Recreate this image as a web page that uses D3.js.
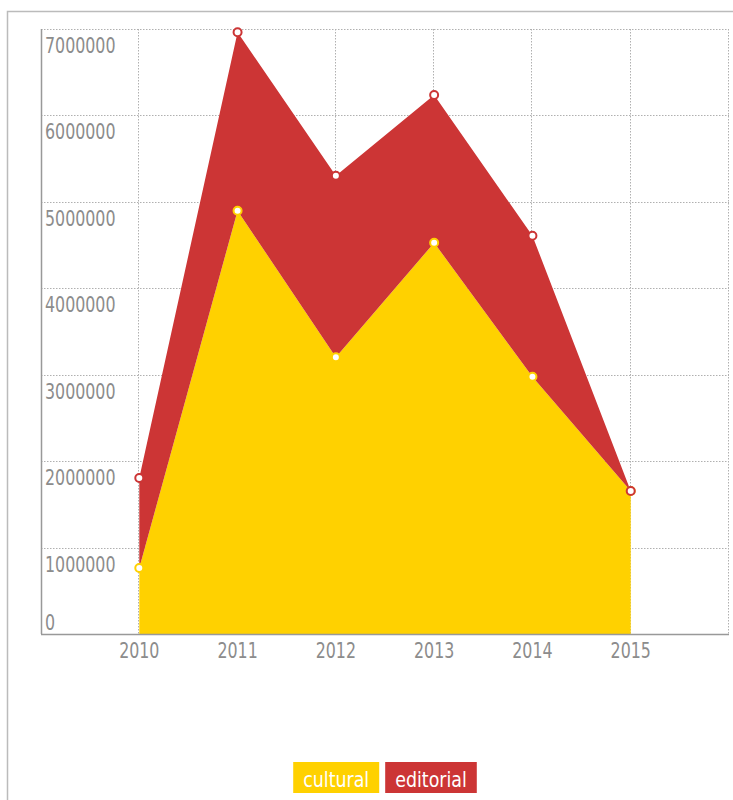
<!DOCTYPE html>
<html>
<head>
<meta charset="utf-8">
<script src="https://cdn.jsdelivr.net/npm/d3@7"></script>
<style>
    body { margin: 0; background: #fff; }
    svg text { font-family: "Liberation Sans Narrow", "DejaVu Sans Condensed", "Roboto", sans-serif; }
</style>
</head>
<body>
<div id="chart"></div>
<script>
var years = [2010, 2011, 2012, 2013, 2014, 2015];
var cultural = [764000, 4898000, 3201000, 4527000, 2977000, 1655000];
var editorial = [1041000, 2064000, 2102000, 1709000, 1631000, 0];
var seriesNames = ["cultural", "editorial"];
var seriesColors = ["#ffd100", "#cc3535"];
var yTicks = [0, 1000000, 2000000, 3000000, 4000000, 5000000, 6000000, 7000000];

var W = 733, H = 800;
var margin = { top: 29, right: 4, bottom: 166, left: 41 },
    width = W - margin.left - margin.right,
    height = H - margin.top - margin.bottom;
var narrow = 0.8; // horizontal squeeze to mimic the narrow face
var legendNarrow = 0.88;

var rows = years.map(function (y, i) { return { year: y, cultural: cultural[i], editorial: editorial[i] }; });
var stacked = d3.stack().keys(seriesNames)(rows);

var x = d3.scaleLinear().domain([years[0] - 1, years[years.length - 1] + 1]).range([0, width]);
var y = d3.scaleLinear().domain([0, 7000000]).range([height, 0]);
var color = d3.scaleOrdinal().domain(seriesNames).range(seriesColors);

var svg = d3.select("#chart").append("svg")
    .attr("width", W)
    .attr("height", H);

// outer frame
svg.append("path")
    .attr("d", "M7.5," + (H + 5) + "V11.5H" + (W + 5))
    .style("fill", "none")
    .style("stroke", "#bbb")
    .style("stroke-width", 1.5);

var g = svg.append("g")
    .attr("transform", "translate(" + margin.left + "," + margin.top + ")");

// grid
var grid = g.append("g").attr("class", "grid");
grid.selectAll(".hgrid")
    .data(yTicks.filter(function (d) { return d > 0; }))
    .enter().append("line")
    .attr("x1", 0).attr("x2", width)
    .attr("y1", function (d) { return Math.round(y(d)) + 0.5; })
    .attr("y2", function (d) { return Math.round(y(d)) + 0.5; })
    .style("stroke", "#b0b0b0")
    .style("stroke-dasharray", "1.5,1.5");

grid.selectAll(".vgrid")
    .data(years.concat([years[years.length - 1] + 1]))
    .enter().append("line")
    .attr("y1", 0).attr("y2", height)
    .attr("x1", function (d) { return Math.round(x(d)) - 0.5; })
    .attr("x2", function (d) { return Math.round(x(d)) - 0.5; })
    .style("stroke", "#b0b0b0")
    .style("stroke-dasharray", "1.5,1.5");

// areas
var area = d3.area()
    .x(function (d) { return x(d.data.year); })
    .y0(function (d) { return y(d[0]); })
    .y1(function (d) { return y(d[1]); });

g.selectAll(".area")
    .data(stacked)
    .enter().append("path")
    .attr("class", "area")
    .attr("d", area)
    .style("fill", function (d) { return color(d.key); });

// axes lines
g.append("line")
    .attr("x1", 0.5).attr("x2", 0.5).attr("y1", 0).attr("y2", height)
    .style("stroke", "#999").style("stroke-width", 1.5);
g.append("line")
    .attr("x1", 0).attr("x2", width).attr("y1", height + 0.5).attr("y2", height + 0.5)
    .style("stroke", "#999").style("stroke-width", 1.5);

// y labels (inside the plot, under their grid line)
g.selectAll(".ylabel")
    .data(yTicks)
    .enter().append("g")
    .attr("class", "ylabel")
    .attr("transform", function (d) { return "translate(4," + Math.min(y(d) + 24, height - 4) + ") scale(" + narrow + ",1)"; })
    .append("text")
    .style("font-size", "22px")
    .style("fill", "#8c8c8c")
    .text(function (d) { return d; });

// x labels
g.selectAll(".xlabel")
    .data(years)
    .enter().append("g")
    .attr("class", "xlabel")
    .attr("transform", function (d) { return "translate(" + x(d) + "," + (height + 24) + ") scale(" + narrow + ",1)"; })
    .append("text")
    .attr("text-anchor", "middle")
    .style("font-size", "22px")
    .style("fill", "#8c8c8c")
    .text(function (d) { return d; });

// points
var pts = g.selectAll(".pts")
    .data(stacked)
    .enter().append("g")
    .attr("class", "pts");

pts.selectAll("circle")
    .data(function (d) { return d.map(function (p) { return { key: d.key, p: p }; }); })
    .enter().append("circle")
    .attr("cx", function (d) { return x(d.p.data.year); })
    .attr("cy", function (d) { return y(d.p[1]); })
    .attr("r", 4)
    .style("fill", "#fff")
    .style("stroke", function (d) { return color(d.key); })
    .style("stroke-width", 2);

// legend
var legend = svg.append("g").attr("class", "legend");
var items = legend.selectAll(".item")
    .data(seriesNames)
    .enter().append("g")
    .attr("class", "item");

items.append("rect")
    .style("fill", function (d) { return color(d); });
items.append("g")
    .attr("transform", "translate(10,25) scale(" + legendNarrow + ",1)")
    .append("text")
    .style("font-size", "22px")
    .style("fill", "#fff")
    .text(function (d) { return d; });

var offset = 0, gap = 6, boxes = [];
items.each(function (d) {
    var tw = this.querySelector("text").getComputedTextLength() * legendNarrow;
    boxes.push({ x: offset, w: tw + 20 });
    offset += tw + 20 + gap;
});
var totalW = offset - gap;
var startX = margin.left + width / 2 - totalW / 2;
items.attr("transform", function (d, i) { return "translate(" + (startX + boxes[i].x) + ",762)"; });
items.select("rect")
    .attr("width", function (d, i) { return boxes[i].w; })
    .attr("height", 31);
</script>
</body>
</html>
